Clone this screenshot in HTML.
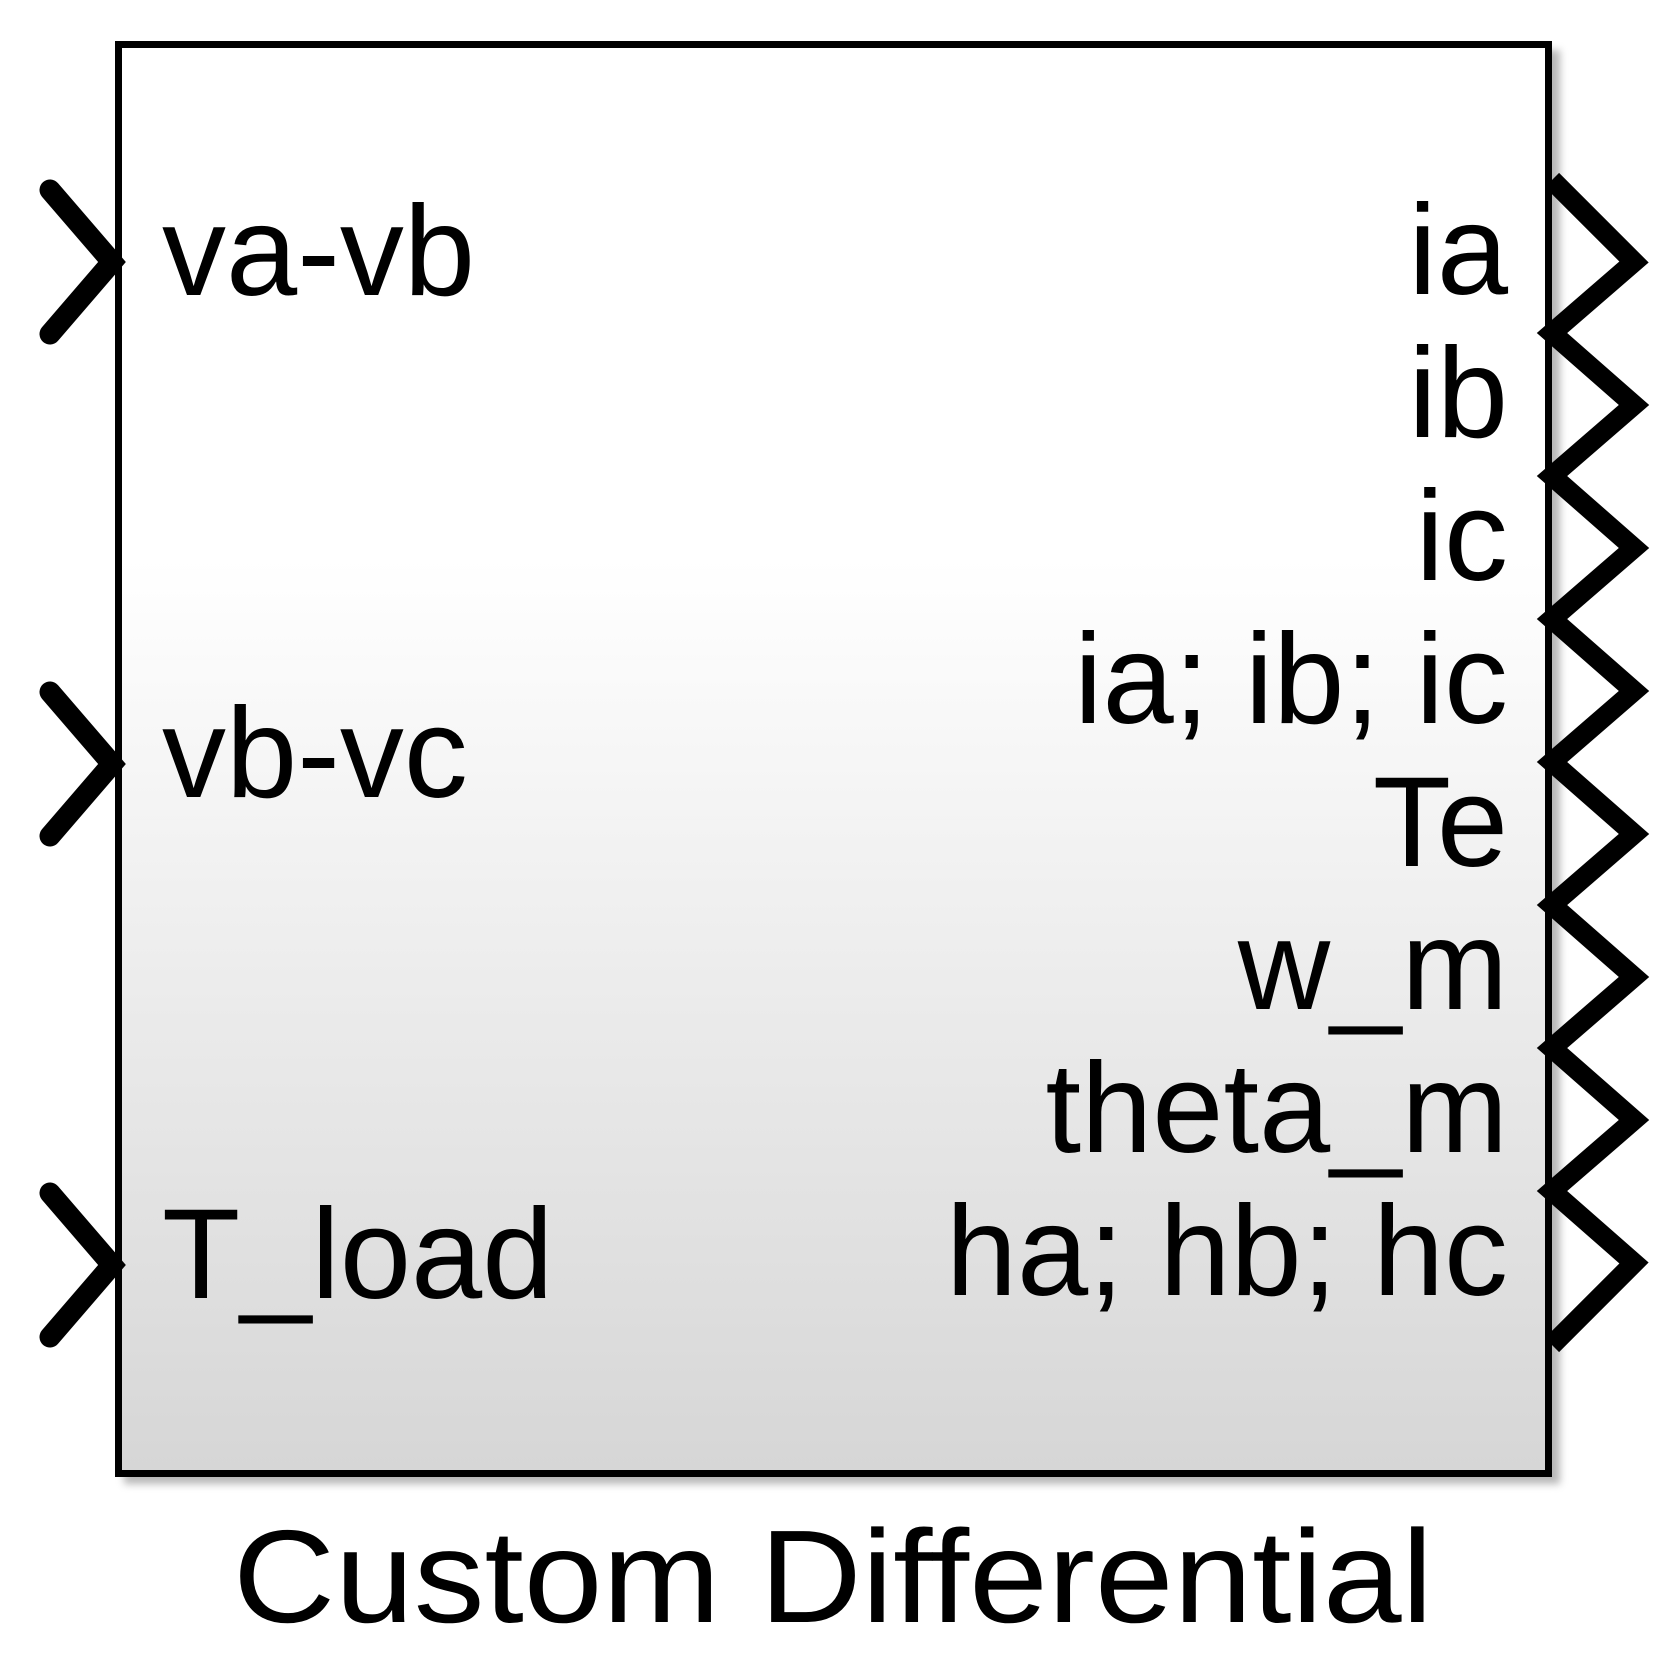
<!DOCTYPE html>
<html><head><meta charset="utf-8"><style>
html,body{margin:0;padding:0;background:#fff;}
svg{display:block;}
text{font-family:"Liberation Sans",Arial,sans-serif;fill:#000;}
</style></head><body>
<svg width="1668" height="1655" viewBox="0 0 1668 1655" xmlns="http://www.w3.org/2000/svg">
<defs>
<linearGradient id="g" x1="0" y1="0" x2="0" y2="1">
<stop offset="0" stop-color="#ffffff"/>
<stop offset="0.36" stop-color="#ffffff"/>
<stop offset="1" stop-color="#d6d6d6"/>
</linearGradient>
<filter id="sh" x="-5%" y="-5%" width="115%" height="115%">
<feGaussianBlur stdDeviation="4"/>
</filter>
</defs>
<rect x="124" y="50" width="1436" height="1434" fill="#888" filter="url(#sh)" opacity="0.6"/>
<rect x="118.5" y="44.5" width="1430" height="1429" fill="url(#g)" stroke="#000" stroke-width="7"/>
<g stroke="#000" stroke-width="21" fill="none" stroke-linecap="round" stroke-linejoin="miter">
<polyline points="50,190 112,262 50,334"/>
<polyline points="50,692 112,764 50,836"/>
<polyline points="50,1193 112,1265 50,1337"/>
</g>
<g stroke="#000" stroke-width="20" fill="none" stroke-linecap="butt" stroke-linejoin="miter">
<polyline points="1552,180 1634,262 1552,333 1634,405 1552,476 1634,548 1552,619 1634,691 1552,762 1634,834 1552,905 1634,977 1552,1048 1634,1120 1552,1191 1634,1263 1552,1345"/>
</g>
<g font-size="128">
<text x="162" y="295">va-vb</text>
<text x="162" y="797">vb-vc</text>
<text x="162" y="1298">T_load</text>
</g>
<g font-size="128" text-anchor="end">
<text x="1508" y="294">ia</text>
<text x="1508" y="437">ib</text>
<text x="1508" y="580">ic</text>
<text x="1508" y="723">ia; ib; ic</text>
<text x="1508" y="866">Te</text>
<text x="1508" y="1009">w_m</text>
<text x="1508" y="1152">theta_m</text>
<text x="1508" y="1295">ha; hb; hc</text>
</g>
<text x="233" y="1622" font-size="132" textLength="1200" lengthAdjust="spacingAndGlyphs">Custom Differential</text>
</svg>
</body></html>
